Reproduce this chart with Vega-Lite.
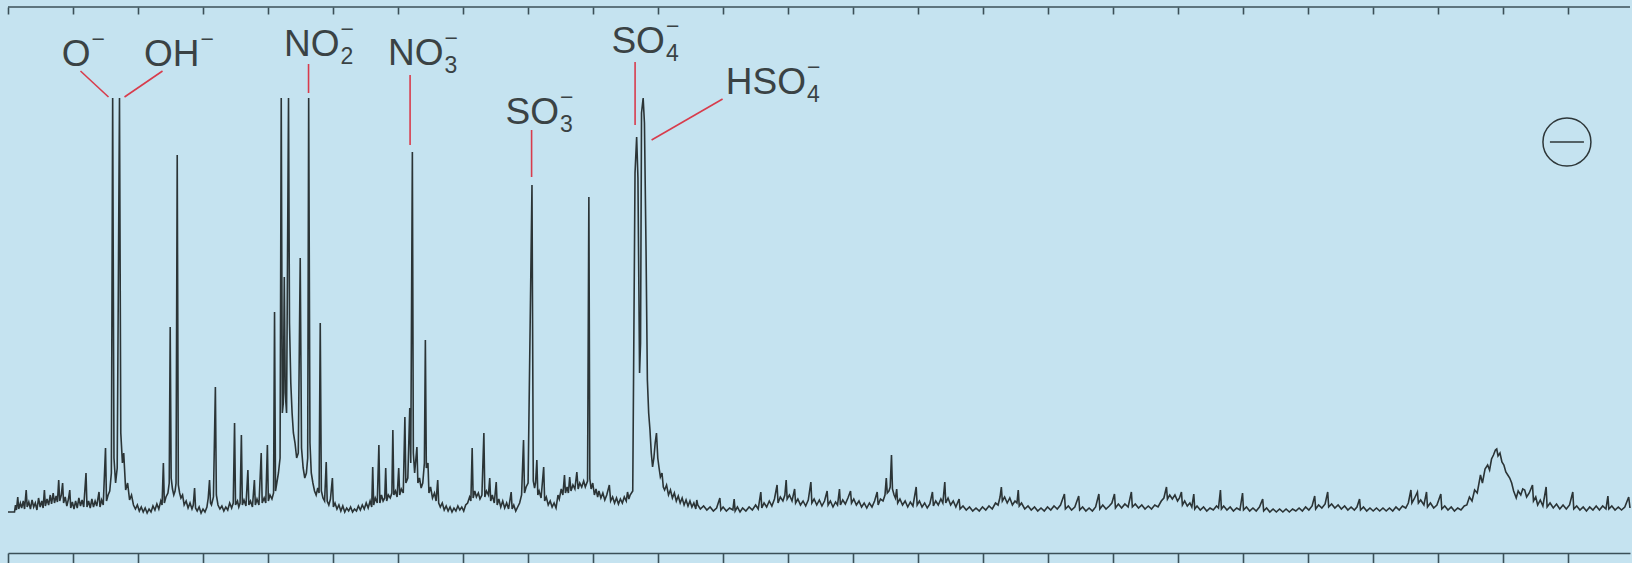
{
"$schema": "https://vega.github.io/schema/vega-lite/v6.json",
"width": 1622, "height": 546,
"autosize": {"type": "none"},
"padding": {"left": 8, "top": 7, "right": 2, "bottom": 10},
"background": "#c5e3f0",
"config": {"view": {"stroke": null}, "axis": {"grid": false, "labels": false, "title": null, "domainColor": "#3b5058", "tickColor": "#3b5058", "domainWidth": 1.6, "tickWidth": 1.6}},
"datasets": {
"spec": [
{"m":0,"i":41},{"m":1.0,"i":41},{"m":1.15,"i":48},{"m":1.3,"i":43},{"m":1.5,"i":56},{"m":1.65,"i":44},{"m":1.9,"i":50},{"m":2.1,"i":45},{"m":2.35,"i":52},{"m":2.55,"i":44},{"m":2.8,"i":63},{"m":2.95,"i":46},{"m":3.2,"i":51},{"m":3.45,"i":44},{"m":3.7,"i":53},{"m":3.95,"i":46},{"m":4.2,"i":50},{"m":4.45,"i":43},{"m":4.7,"i":55},{"m":4.95,"i":46},{"m":5.2,"i":52},{"m":5.4,"i":45},{"m":5.6,"i":63},{"m":5.75,"i":47},{"m":6.0,"i":54},{"m":6.25,"i":48},{"m":6.5,"i":58},{"m":6.7,"i":49},{"m":6.95,"i":60},{"m":7.15,"i":50},{"m":7.4,"i":57},{"m":7.6,"i":51},{"m":7.8,"i":73},{"m":7.95,"i":52},{"m":8.2,"i":58},{"m":8.4,"i":70},{"m":8.55,"i":50},{"m":8.8,"i":56},{"m":9.05,"i":47},{"m":9.3,"i":54},{"m":9.5,"i":63},{"m":9.65,"i":45},{"m":9.9,"i":51},{"m":10.15,"i":44},{"m":10.4,"i":52},{"m":10.65,"i":45},{"m":10.9,"i":55},{"m":11.15,"i":47},{"m":11.4,"i":53},{"m":11.65,"i":46},{"m":12.0,"i":80},{"m":12.15,"i":46},{"m":12.4,"i":52},{"m":12.65,"i":45},{"m":12.9,"i":54},{"m":13.15,"i":46},{"m":13.4,"i":52},{"m":13.65,"i":47},{"m":14.0,"i":61},{"m":14.15,"i":46},{"m":14.4,"i":53},{"m":14.65,"i":48},{"m":15.0,"i":105},{"m":15.15,"i":52},{"m":15.4,"i":58},{"m":15.65,"i":62},
{"m":15.9,"i":80},{"m":16.1,"i":455},{"m":16.3,"i":95},{"m":16.55,"i":70},{"m":16.8,"i":85},{"m":17.15,"i":455},{"m":17.35,"i":120},{"m":17.6,"i":90},{"m":17.8,"i":100},{"m":18.1,"i":63},{"m":18.4,"i":70},{"m":18.7,"i":53},{"m":19.0,"i":58},{"m":19.3,"i":48},
{"m":19.6,"i":44},{"m":19.9,"i":48},{"m":20.2,"i":42},{"m":20.5,"i":46},{"m":20.8,"i":41},{"m":21.1,"i":45},{"m":21.4,"i":40},{"m":21.7,"i":44},{"m":22.0,"i":41},{"m":22.3,"i":47},{"m":22.6,"i":43},{"m":22.9,"i":49},{"m":23.2,"i":44},{"m":23.5,"i":52},{"m":23.7,"i":48},{"m":23.9,"i":90},{"m":24.05,"i":50},{"m":24.3,"i":56},{"m":24.6,"i":60},{"m":24.8,"i":70},{"m":24.95,"i":226},{"m":25.1,"i":75},{"m":25.3,"i":64},{"m":25.5,"i":58},{"m":25.7,"i":62},{"m":25.85,"i":70},{"m":26.03,"i":398},{"m":26.2,"i":68},{"m":26.4,"i":60},{"m":26.6,"i":55},{"m":26.85,"i":58},{"m":27.1,"i":48},{"m":27.4,"i":52},{"m":27.7,"i":45},{"m":28.0,"i":50},{"m":28.3,"i":44},{"m":28.5,"i":48},{"m":28.7,"i":65},{"m":28.85,"i":45},{"m":29.1,"i":42},{"m":29.4,"i":46},{"m":29.7,"i":40},{"m":30.0,"i":44},{"m":30.3,"i":41},{"m":30.6,"i":46},{"m":30.8,"i":55},{"m":31.0,"i":73},{"m":31.15,"i":50},{"m":31.3,"i":48},{"m":31.6,"i":56},{"m":31.9,"i":166},{"m":32.05,"i":58},{"m":32.3,"i":48},{"m":32.6,"i":44},{"m":32.9,"i":47},{"m":33.2,"i":42},{"m":33.5,"i":46},{"m":33.8,"i":43},{"m":34.1,"i":50},{"m":34.4,"i":45},{"m":34.65,"i":50},{"m":34.85,"i":130},{"m":35.0,"i":48},{"m":35.3,"i":52},{"m":35.5,"i":46},{"m":35.7,"i":50},{"m":35.9,"i":118},{"m":36.05,"i":48},{"m":36.3,"i":53},{"m":36.6,"i":47},{"m":36.9,"i":83},{"m":37.05,"i":48},{"m":37.3,"i":52},{"m":37.6,"i":46},{"m":37.9,"i":73},{"m":38.05,"i":48},{"m":38.3,"i":54},{"m":38.6,"i":48},{"m":38.95,"i":100},{"m":39.1,"i":50},{"m":39.4,"i":55},{"m":39.65,"i":50},{"m":39.9,"i":108},{"m":40.05,"i":52},{"m":40.3,"i":58},{"m":40.6,"i":54},{"m":40.85,"i":60},{"m":41.0,"i":241},{"m":41.15,"i":62},{"m":41.35,"i":70},{"m":41.6,"i":80},{"m":41.85,"i":95},{"m":42.03,"i":455},{"m":42.2,"i":140},{"m":42.35,"i":150},{"m":42.5,"i":276},{"m":42.65,"i":160},{"m":42.85,"i":140},{"m":43.15,"i":455},{"m":43.3,"i":230},{"m":43.5,"i":170},{"m":43.7,"i":140},{"m":43.9,"i":120},{"m":44.15,"i":110},{"m":44.4,"i":95},{"m":44.65,"i":100},{"m":44.95,"i":295},{"m":45.15,"i":105},{"m":45.4,"i":85},{"m":45.65,"i":75},{"m":45.9,"i":80},{"m":46.1,"i":95},{"m":46.25,"i":455},{"m":46.45,"i":110},{"m":46.65,"i":80},{"m":46.9,"i":70},{"m":47.15,"i":62},{"m":47.4,"i":58},{"m":47.65,"i":65},{"m":47.85,"i":60},{"m":48.03,"i":230},{"m":48.2,"i":62},{"m":48.45,"i":55},{"m":48.7,"i":52},{"m":48.95,"i":91},{"m":49.1,"i":52},{"m":49.35,"i":48},{"m":49.6,"i":54},{"m":49.9,"i":75},{"m":50.05,"i":46},{"m":50.3,"i":50},
{"m":50.6,"i":44},{"m":50.9,"i":48},{"m":51.2,"i":42},{"m":51.5,"i":47},{"m":51.8,"i":41},{"m":52.1,"i":45},{"m":52.4,"i":42},{"m":52.7,"i":46},{"m":53.0,"i":41},{"m":53.3,"i":44},{"m":53.6,"i":42},{"m":53.9,"i":47},{"m":54.2,"i":43},{"m":54.5,"i":48},{"m":54.8,"i":44},{"m":55.1,"i":50},{"m":55.4,"i":45},{"m":55.7,"i":52},{"m":55.95,"i":46},{"m":56.1,"i":86},{"m":56.25,"i":48},{"m":56.5,"i":55},{"m":56.8,"i":50},{"m":57.05,"i":108},{"m":57.2,"i":50},{"m":57.45,"i":58},{"m":57.7,"i":52},{"m":57.95,"i":55},{"m":58.1,"i":85},{"m":58.25,"i":52},{"m":58.5,"i":58},{"m":58.8,"i":55},{"m":59.05,"i":60},{"m":59.2,"i":123},{"m":59.35,"i":58},{"m":59.6,"i":62},{"m":59.85,"i":56},{"m":60.1,"i":85},{"m":60.25,"i":58},{"m":60.5,"i":64},{"m":60.8,"i":60},{"m":61.05,"i":136},{"m":61.2,"i":70},{"m":61.5,"i":75},{"m":61.8,"i":145},{"m":61.95,"i":90},{"m":62.2,"i":401},{"m":62.35,"i":100},{"m":62.55,"i":80},{"m":62.9,"i":106},{"m":63.05,"i":70},{"m":63.3,"i":75},{"m":63.55,"i":65},{"m":63.8,"i":70},{"m":64.05,"i":90},{"m":64.2,"i":213},{"m":64.35,"i":85},{"m":64.6,"i":90},{"m":64.75,"i":60},{"m":65.0,"i":66},{"m":65.3,"i":55},{"m":65.6,"i":60},{"m":65.85,"i":52},{"m":66.1,"i":73},{"m":66.25,"i":50},{"m":66.5,"i":46},{"m":66.8,"i":50},{"m":67.1,"i":43},{"m":67.4,"i":47},{"m":67.7,"i":42},{"m":68.0,"i":46},{"m":68.3,"i":41},{"m":68.6,"i":45},{"m":68.9,"i":42},{"m":69.2,"i":47},{"m":69.5,"i":43},{"m":69.8,"i":46},{"m":70.1,"i":42},{"m":70.4,"i":48},{"m":70.7,"i":50},{"m":71.0,"i":56},{"m":71.2,"i":52},{"m":71.4,"i":105},{"m":71.55,"i":55},{"m":71.8,"i":62},{"m":72.05,"i":56},{"m":72.35,"i":60},{"m":72.6,"i":54},{"m":72.9,"i":58},{"m":73.2,"i":120},{"m":73.35,"i":56},{"m":73.6,"i":62},{"m":73.9,"i":58},{"m":74.1,"i":75},{"m":74.25,"i":52},{"m":74.5,"i":58},{"m":74.8,"i":50},{"m":75.1,"i":71},{"m":75.25,"i":48},{"m":75.5,"i":54},{"m":75.8,"i":46},{"m":76.1,"i":52},{"m":76.4,"i":45},{"m":76.7,"i":50},{"m":77.0,"i":44},{"m":77.4,"i":61},{"m":77.55,"i":44},{"m":77.8,"i":48},{"m":78.1,"i":42},{"m":78.4,"i":46},{"m":78.7,"i":50},{"m":79.0,"i":58},{"m":79.3,"i":113},{"m":79.45,"i":60},{"m":79.7,"i":66},{"m":80.0,"i":70},{"m":80.6,"i":368},{"m":80.8,"i":72},{"m":81.0,"i":65},{"m":81.15,"i":70},{"m":81.35,"i":93},{"m":81.5,"i":58},{"m":81.7,"i":62},{"m":82.0,"i":55},{"m":82.4,"i":86},{"m":82.55,"i":52},{"m":82.8,"i":56},{"m":83.1,"i":48},{"m":83.4,"i":52},{"m":83.7,"i":46},{"m":84.0,"i":50},{"m":84.3,"i":45},{"m":84.6,"i":58},{"m":84.8,"i":54},{"m":85.1,"i":64},{"m":85.35,"i":58},{"m":85.6,"i":78},{"m":85.75,"i":60},{"m":86.0,"i":66},{"m":86.2,"i":60},{"m":86.4,"i":76},{"m":86.6,"i":62},{"m":86.9,"i":68},{"m":87.2,"i":64},{"m":87.5,"i":81},{"m":87.7,"i":64},{"m":87.95,"i":70},{"m":88.25,"i":66},{"m":88.55,"i":72},{"m":88.8,"i":66},{"m":89.15,"i":72},{"m":89.35,"i":356},{"m":89.5,"i":74},{"m":89.7,"i":64},{"m":89.95,"i":70},{"m":90.2,"i":58},{"m":90.45,"i":64},{"m":90.7,"i":56},{"m":90.9,"i":62},{"m":91.2,"i":55},{"m":91.5,"i":60},{"m":91.8,"i":53},{"m":92.1,"i":58},{"m":92.5,"i":68},{"m":92.7,"i":52},{"m":93.0,"i":56},{"m":93.3,"i":50},{"m":93.6,"i":55},{"m":93.9,"i":49},{"m":94.2,"i":54},{"m":94.5,"i":50},{"m":94.8,"i":56},{"m":95.1,"i":52},{"m":95.3,"i":61},{"m":95.5,"i":54},{"m":95.7,"i":58},{"m":96.1,"i":62},{"m":96.45,"i":380},{"m":96.7,"i":416},{"m":96.9,"i":375},{"m":97.15,"i":180},{"m":97.3,"i":210},{"m":97.45,"i":440},{"m":97.7,"i":455},{"m":97.9,"i":430},{"m":98.15,"i":300},{"m":98.35,"i":173},{"m":98.55,"i":140},{"m":98.75,"i":123},{"m":98.95,"i":100},{"m":99.15,"i":86},{"m":99.35,"i":95},{"m":99.55,"i":110},{"m":99.75,"i":120},{"m":99.95,"i":95},{"m":100.15,"i":85},{"m":100.35,"i":76},{"m":100.6,"i":80},{"m":100.8,"i":66},{"m":101.0,"i":63},{"m":101.3,"i":68},{"m":101.6,"i":58},{"m":101.9,"i":63},{"m":102.2,"i":55},{"m":102.5,"i":60},{"m":102.8,"i":52},{"m":103.1,"i":57},{"m":103.4,"i":50},{"m":103.7,"i":55},{"m":104.0,"i":48},{"m":104.3,"i":53},{"m":104.6,"i":47},{"m":104.9,"i":52},{"m":105.2,"i":46},{"m":105.5,"i":50},{"m":105.8,"i":44},{"m":105.95,"i":53},{"m":106.1,"i":48},
{"m":106.5,"i":44},{"m":107.0,"i":47},{"m":107.5,"i":43},{"m":108.0,"i":46},{"m":108.5,"i":42},{"m":109.0,"i":45},{"m":109.5,"i":55},{"m":109.65,"i":43},{"m":110.0,"i":46},{"m":110.5,"i":42},{"m":111.0,"i":45},{"m":111.5,"i":43},{"m":111.7,"i":54},{"m":111.85,"i":42},{"m":112.2,"i":46},{"m":112.6,"i":41},{"m":113.0,"i":45},{"m":113.5,"i":42},{"m":114.0,"i":46},{"m":114.5,"i":43},{"m":115.0,"i":48},{"m":115.4,"i":44},{"m":115.8,"i":61},{"m":115.95,"i":45},{"m":116.3,"i":50},{"m":116.7,"i":46},{"m":117.1,"i":52},{"m":117.5,"i":47},{"m":117.9,"i":54},{"m":118.3,"i":68},{"m":118.45,"i":50},{"m":118.8,"i":56},{"m":119.2,"i":52},{"m":119.5,"i":58},{"m":119.7,"i":73},{"m":119.85,"i":54},{"m":120.2,"i":58},{"m":120.6,"i":52},{"m":121.0,"i":64},{"m":121.15,"i":50},{"m":121.5,"i":54},{"m":121.9,"i":48},{"m":122.3,"i":52},{"m":122.7,"i":47},{"m":123.1,"i":53},{"m":123.5,"i":71},{"m":123.65,"i":50},{"m":124.0,"i":54},{"m":124.4,"i":48},{"m":124.8,"i":53},{"m":125.2,"i":47},{"m":125.6,"i":52},{"m":126.0,"i":62},{"m":126.15,"i":48},{"m":126.5,"i":52},{"m":126.9,"i":46},{"m":127.3,"i":51},{"m":127.6,"i":48},{"m":127.9,"i":64},{"m":128.05,"i":48},{"m":128.4,"i":53},{"m":128.8,"i":49},{"m":129.2,"i":55},{"m":129.6,"i":62},{"m":129.75,"i":50},{"m":130.1,"i":54},{"m":130.5,"i":48},{"m":130.9,"i":52},{"m":131.3,"i":46},{"m":131.7,"i":50},{"m":132.1,"i":45},{"m":132.5,"i":50},{"m":132.9,"i":46},{"m":133.3,"i":52},{"m":133.7,"i":61},{"m":133.85,"i":48},{"m":134.2,"i":54},{"m":134.6,"i":52},{"m":134.9,"i":58},{"m":135.1,"i":75},{"m":135.25,"i":60},{"m":135.5,"i":62},{"m":135.7,"i":66},{"m":135.9,"i":98},{"m":136.05,"i":64},{"m":136.3,"i":58},{"m":136.5,"i":55},{"m":136.7,"i":64},{"m":136.85,"i":50},{"m":137.2,"i":54},{"m":137.6,"i":48},{"m":138.0,"i":52},{"m":138.4,"i":46},{"m":138.8,"i":51},{"m":139.2,"i":47},{"m":139.7,"i":66},{"m":139.85,"i":48},{"m":140.2,"i":52},{"m":140.6,"i":46},{"m":141.0,"i":50},{"m":141.4,"i":45},{"m":141.8,"i":49},{"m":142.2,"i":61},{"m":142.35,"i":47},{"m":142.7,"i":52},{"m":143.1,"i":48},{"m":143.5,"i":54},{"m":143.8,"i":50},{"m":144.1,"i":71},{"m":144.25,"i":50},{"m":144.6,"i":55},{"m":145.0,"i":48},{"m":145.4,"i":52},{"m":145.8,"i":46},{"m":146.3,"i":54},{"m":146.45,"i":44},{"m":146.9,"i":47},{"m":147.4,"i":43},{"m":147.9,"i":46},{"m":148.4,"i":42},{"m":148.9,"i":45},{"m":149.4,"i":42},{"m":149.9,"i":46},{"m":150.4,"i":43},{"m":150.9,"i":47},{"m":151.4,"i":44},{"m":151.9,"i":50},{"m":152.3,"i":48},{"m":152.6,"i":56},{"m":152.8,"i":66},{"m":152.95,"i":52},{"m":153.3,"i":56},{"m":153.7,"i":50},{"m":154.1,"i":55},{"m":154.5,"i":48},{"m":154.9,"i":52},{"m":155.2,"i":50},{"m":155.4,"i":63},{"m":155.55,"i":47},{"m":155.9,"i":50},{"m":156.4,"i":44},{"m":156.9,"i":47},{"m":157.4,"i":43},{"m":157.9,"i":46},{"m":158.4,"i":42},{"m":158.9,"i":45},{"m":159.4,"i":42},{"m":159.9,"i":46},{"m":160.4,"i":43},{"m":160.9,"i":47},{"m":161.4,"i":44},{"m":161.9,"i":48},{"m":162.5,"i":59},{"m":162.65,"i":44},{"m":163.1,"i":47},{"m":163.6,"i":43},{"m":164.1,"i":46},{"m":164.7,"i":57},{"m":164.85,"i":43},{"m":165.3,"i":46},{"m":165.8,"i":42},{"m":166.3,"i":45},{"m":166.8,"i":42},{"m":167.3,"i":46},{"m":167.8,"i":59},{"m":167.95,"i":44},{"m":168.4,"i":48},{"m":168.9,"i":44},{"m":169.4,"i":47},{"m":169.8,"i":50},{"m":170.2,"i":59},{"m":170.35,"i":45},{"m":170.8,"i":49},{"m":171.3,"i":45},{"m":171.8,"i":49},{"m":172.3,"i":46},{"m":172.8,"i":61},{"m":172.95,"i":46},{"m":173.4,"i":49},{"m":173.9,"i":45},{"m":174.4,"i":48},{"m":174.9,"i":44},{"m":175.4,"i":47},{"m":175.9,"i":44},{"m":176.4,"i":48},{"m":176.9,"i":46},{"m":177.4,"i":52},{"m":177.8,"i":55},{"m":178.2,"i":66},{"m":178.35,"i":54},{"m":178.7,"i":58},{"m":179.1,"i":54},{"m":179.5,"i":58},{"m":179.9,"i":52},{"m":180.2,"i":55},{"m":180.5,"i":61},{"m":180.65,"i":48},{"m":181.0,"i":52},{"m":181.4,"i":47},{"m":181.8,"i":50},{"m":182.1,"i":46},{"m":182.4,"i":59},{"m":182.55,"i":44},{"m":182.9,"i":47},{"m":183.4,"i":43},{"m":183.9,"i":46},{"m":184.4,"i":42},{"m":184.9,"i":45},{"m":185.4,"i":43},{"m":185.9,"i":47},{"m":186.2,"i":45},{"m":186.5,"i":63},{"m":186.65,"i":44},{"m":187.0,"i":47},{"m":187.5,"i":43},{"m":188.0,"i":46},{"m":188.5,"i":42},{"m":189.0,"i":45},{"m":189.5,"i":43},{"m":189.9,"i":60},{"m":190.05,"i":43},{"m":190.5,"i":46},{"m":191.0,"i":42},{"m":191.5,"i":45},{"m":192.0,"i":42},{"m":192.5,"i":46},{"m":193.0,"i":54},{"m":193.15,"i":42},{"m":193.6,"i":45},{"m":194.1,"i":41},{"m":194.6,"i":44},{"m":195.1,"i":41},{"m":195.6,"i":44},{"m":196.1,"i":41},{"m":196.6,"i":44},{"m":197.1,"i":41},{"m":197.6,"i":44},{"m":198.1,"i":42},{"m":198.6,"i":45},{"m":199.1,"i":42},{"m":199.6,"i":46},{"m":200.1,"i":43},{"m":200.6,"i":47},{"m":201.0,"i":57},{"m":201.15,"i":44},{"m":201.6,"i":48},{"m":202.1,"i":45},{"m":202.6,"i":49},{"m":203.0,"i":61},{"m":203.15,"i":46},{"m":203.6,"i":49},{"m":204.1,"i":45},{"m":204.6,"i":48},{"m":205.1,"i":44},{"m":205.6,"i":47},{"m":206.1,"i":43},{"m":206.6,"i":46},{"m":207.1,"i":43},{"m":207.5,"i":46},{"m":207.9,"i":54},{"m":208.05,"i":43},{"m":208.5,"i":46},{"m":209.0,"i":42},{"m":209.5,"i":45},{"m":210.0,"i":42},{"m":210.5,"i":45},{"m":211.0,"i":42},{"m":211.5,"i":45},{"m":212.0,"i":42},{"m":212.5,"i":45},{"m":213.0,"i":42},{"m":213.5,"i":46},{"m":214.0,"i":43},{"m":214.5,"i":47},{"m":215.0,"i":45},{"m":215.4,"i":50},{"m":215.8,"i":63},{"m":215.95,"i":50},{"m":216.3,"i":54},{"m":216.8,"i":61},{"m":216.95,"i":50},{"m":217.3,"i":53},{"m":217.8,"i":48},{"m":218.2,"i":61},{"m":218.35,"i":46},{"m":218.8,"i":50},{"m":219.3,"i":45},{"m":219.8,"i":48},{"m":220.4,"i":59},{"m":220.55,"i":44},{"m":221.0,"i":47},{"m":221.5,"i":43},{"m":222.0,"i":46},{"m":222.5,"i":42},{"m":223.0,"i":45},{"m":223.5,"i":43},{"m":224.0,"i":47},{"m":224.4,"i":48},{"m":224.8,"i":56},{"m":225.2,"i":52},{"m":225.6,"i":63},{"m":226.0,"i":60},{"m":226.5,"i":78},{"m":226.8,"i":70},{"m":227.2,"i":84},{"m":227.6,"i":88},{"m":227.9,"i":83},{"m":228.2,"i":94},{"m":228.5,"i":98},{"m":228.8,"i":103},{"m":229.0,"i":104},{"m":229.2,"i":97},{"m":229.5,"i":100},{"m":229.8,"i":91},{"m":230.1,"i":88},{"m":230.4,"i":81},{"m":230.7,"i":78},{"m":231.0,"i":75},{"m":231.3,"i":70},{"m":231.6,"i":62},{"m":232.0,"i":55},{"m":232.3,"i":62},{"m":232.7,"i":58},{"m":233.0,"i":64},{"m":233.3,"i":63},{"m":233.6,"i":56},{"m":234.0,"i":60},{"m":234.5,"i":68},{"m":234.65,"i":52},{"m":235.0,"i":56},{"m":235.3,"i":48},{"m":235.7,"i":53},{"m":236.1,"i":47},{"m":236.6,"i":66},{"m":236.75,"i":46},{"m":237.2,"i":50},{"m":237.7,"i":45},{"m":238.2,"i":49},{"m":238.7,"i":44},{"m":239.2,"i":48},{"m":239.7,"i":44},{"m":240.2,"i":48},{"m":240.7,"i":61},{"m":240.85,"i":44},{"m":241.3,"i":47},{"m":241.8,"i":43},{"m":242.3,"i":46},{"m":242.8,"i":42},{"m":243.3,"i":46},{"m":243.8,"i":43},{"m":244.3,"i":47},{"m":244.8,"i":43},{"m":245.3,"i":47},{"m":245.8,"i":44},{"m":246.1,"i":57},{"m":246.25,"i":44},{"m":246.7,"i":47},{"m":247.2,"i":43},{"m":247.7,"i":46},{"m":248.2,"i":43},{"m":248.7,"i":46},{"m":249.3,"i":56},{"m":249.5,"i":45}
],
"labels": [
{"t":"O","sub":"","sup":"−","m":12.85,"i":487},
{"t":"OH","sub":"","sup":"−","m":29.6,"i":487},
{"t":"NO","sub":"2","sup":"−","m":51.15,"i":497},
{"t":"NO","sub":"3","sup":"−","m":67.15,"i":488},
{"t":"SO","sub":"3","sup":"−","m":84.9,"i":429},
{"t":"SO","sub":"4","sup":"−","m":101.2,"i":500},
{"t":"HSO","sub":"4","sup":"−","m":122.9,"i":459}
],
"leaders": [
{"m":11.15,"i":482,"m2":15.46,"i2":456},
{"m":23.77,"i":482,"m2":17.92,"i2":456},
{"m":46.23,"i":489,"m2":46.23,"i2":460},
{"m":61.85,"i":478,"m2":61.85,"i2":408},
{"m":80.54,"i":423,"m2":80.54,"i2":376},
{"m":96.46,"i":491,"m2":96.46,"i2":428},
{"m":109.92,"i":454,"m2":99.0,"i2":413}
],
"sign": [{"m":239.8,"i":411}],
"frame": [{"i":546}]
},
"layer": [
{"data": {"name": "spec"},
 "mark": {"type": "line", "color": "#2b3436", "strokeWidth": 1.6},
 "encoding": {
  "x": {"field": "m", "type": "quantitative", "scale": {"domain": [0, 249.5], "nice": false, "zero": false},
        "axis": {"orient": "bottom", "values": [0,10,20,30,40,50,60,70,80,90,100,110,120,130,140,150,160,170,180,190,200,210,220,230,240], "tickSize": 10, "labels": false, "title": null}},
  "y": {"field": "i", "type": "quantitative", "scale": {"domain": [0, 546], "nice": false},
        "axis": {"orient": "left", "ticks": false, "labels": false, "title": null}}
 }},
{"data": {"name": "leaders"},
 "mark": {"type": "rule", "color": "#d83c4c", "strokeWidth": 1.6},
 "encoding": {
  "x": {"field": "m", "type": "quantitative",
        "axis": {"orient": "top", "values": [0,10,20,30,40,50,60,70,80,90,100,110,120,130,140,150,160,170,180,190,200,210,220,230,240], "tickSize": 7, "offset": -7, "domain": false, "labels": false, "title": null}},
  "y": {"field": "i", "type": "quantitative", "axis": null},
  "x2": {"field": "m2"},
  "y2": {"field": "i2"}
 }},
{"data": {"name": "frame"},
 "mark": {"type": "rule", "color": "#3b5058", "strokeWidth": 1.6},
 "encoding": {
  "y": {"field": "i", "type": "quantitative", "axis": null}
 }},
{"data": {"name": "labels"},
 "mark": {"type": "text", "align": "right", "baseline": "alphabetic", "font": "Liberation Sans", "fontSize": 37, "color": "#3a4244", "dx": -1},
 "encoding": {
  "x": {"field": "m", "type": "quantitative", "axis": null},
  "y": {"field": "i", "type": "quantitative", "axis": null},
  "text": {"field": "t"}
 }},
{"data": {"name": "labels"},
 "mark": {"type": "text", "align": "left", "baseline": "alphabetic", "font": "Liberation Sans", "fontSize": 23, "color": "#3a4244", "dy": 8},
 "encoding": {
  "x": {"field": "m", "type": "quantitative", "axis": null},
  "y": {"field": "i", "type": "quantitative", "axis": null},
  "text": {"field": "sub"}
 }},
{"data": {"name": "labels"},
 "mark": {"type": "text", "align": "left", "baseline": "alphabetic", "font": "Liberation Sans", "fontSize": 23, "color": "#3a4244", "dy": -19},
 "encoding": {
  "x": {"field": "m", "type": "quantitative", "axis": null},
  "y": {"field": "i", "type": "quantitative", "axis": null},
  "text": {"field": "sup"}
 }},
{"data": {"name": "sign"},
 "mark": {"type": "point", "shape": "circle", "size": 2304, "filled": false, "stroke": "#2e3739", "strokeWidth": 1.5, "opacity": 1},
 "encoding": {
  "x": {"field": "m", "type": "quantitative", "axis": null},
  "y": {"field": "i", "type": "quantitative", "axis": null}
 }},
{"data": {"name": "sign"},
 "mark": {"type": "point", "shape": "stroke", "size": 1156, "filled": false, "stroke": "#2e3739", "strokeWidth": 1.5, "opacity": 1},
 "encoding": {
  "x": {"field": "m", "type": "quantitative", "axis": null},
  "y": {"field": "i", "type": "quantitative", "axis": null}
 }}
],
"resolve": {"axis": {"x": "independent"}}
}
